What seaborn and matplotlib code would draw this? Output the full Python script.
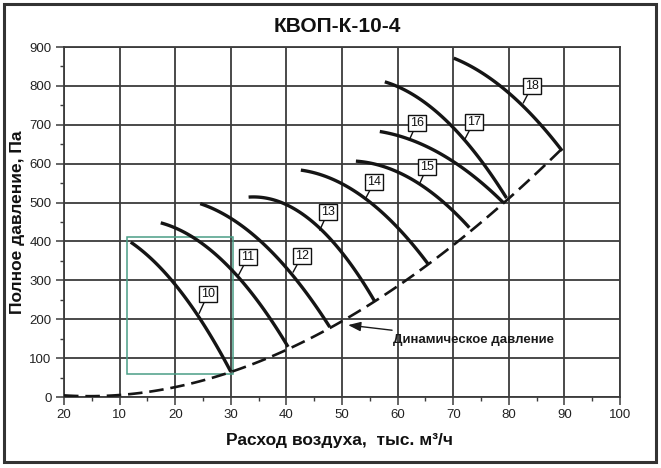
import matplotlib
matplotlib.use("Agg")
import matplotlib.pyplot as plt
from matplotlib.patches import Rectangle
import numpy as np
import pandas as pd
import seaborn as sns

# ---- data ----
curve_names = ["10", "11", "12", "13", "14", "15", "16", "17", "18"]
q10 = [12.0, 15.7, 19.4, 24.7, 28.6, 30.0]
p10 = [401, 350, 300, 200, 100, 65]
q11 = [17.4, 23.6, 30.2, 31.9, 37.5, 40.3]
p11 = [451, 400, 328, 300, 200, 123]
q12 = [24.5, 29.9, 34.7, 40.0, 42.6, 46.6, 47.8]
p12 = [502, 455, 400, 337, 300, 200, 177]
q13 = [33.2, 36.5, 46.1, 50.1, 53.5, 55.9]
p13 = [522, 500, 429, 382, 300, 241]
q14 = [42.6, 47.8, 55.3, 62.2, 65.5]
p14 = [586, 558, 500, 404, 339]
q15 = [52.5, 60.0, 64.0, 70.0, 72.9]
p15 = [609, 571, 549, 489, 428]
q16 = [56.8, 62.0, 70.0, 74.8, 79.0]
p16 = [684, 661, 605, 558, 498]
q17 = [57.7, 59.2, 70.0, 72.1, 75.4, 79.6]
p17 = [813, 800, 691, 663, 600, 511]
q18 = [70.1, 80.0, 82.5, 85.3, 89.6]
p18 = [871, 781, 755, 700, 635]

dyn_q = [0, 10, 20, 30, 40.3, 47.8, 55.9, 65.5, 72.9, 79.6, 89.6]
dyn_p = [2, 8, 26, 65, 123, 177, 241, 339, 428, 511, 635]

x_ticks = [0, 10, 20, 30, 40, 50, 60, 70, 80, 90, 100]
x_tick_labels = ["20", "10", "20", "30", "40", "50", "60", "70", "80", "90", "100"]
y_ticks = [0, 100, 200, 300, 400, 500, 600, 700, 800, 900]

title = "КВОП-К-10-4"
x_label = "Расход воздуха,  тыс. м³/ч"
y_label = "Полное давление, Па"
note = "Динамическое давление"

# label box positions (centre) and leader end points
label_box = {"10": (25.9, 265), "11": (33.1, 360), "12": (42.8, 363), "13": (47.5, 476),
             "14": (55.8, 553), "15": (65.3, 591), "16": (63.5, 705), "17": (73.7, 707),
             "18": (84.2, 800)}
label_pt = {"10": (24.3, 215), "11": (31.3, 311), "12": (41.2, 321), "13": (46.0, 429),
            "14": (54.3, 512), "15": (64.0, 550), "16": (62.1, 661), "17": (72.1, 663),
            "18": (82.6, 756)}

qs = [q10, q11, q12, q13, q14, q15, q16, q17, q18]
ps = [p10, p11, p12, p13, p14, p15, p16, p17, p18]

# ---- style ----
sns.set_theme(style="white")
plt.rcParams["font.family"] = ["Liberation Sans", "DejaVu Sans"]

fig = plt.figure(figsize=(6.61, 4.68), dpi=100)
ax = fig.add_axes([64 / 661, 1 - 397 / 468, 556 / 661, 350 / 468])

grid_c = "#3c3c3c"

# teal selection rectangle
ax.add_patch(Rectangle((11.4, 59), 30.4 - 11.4, 411 - 59, fill=False,
                       edgecolor="#4a9e86", lw=1.1, zorder=2))

# fan curves (smooth 2nd-order fit through the read points)
for q, p in zip(qs, ps):
    sns.regplot(x=np.array(q), y=np.array(p), order=2, ci=None, scatter=False,
                truncate=True, color="#151515", ax=ax,
                line_kws=dict(lw=2.4, zorder=4, solid_capstyle="butt"))
# dynamic pressure
sns.regplot(x=np.array(dyn_q), y=np.array(dyn_p), order=3, ci=None, scatter=False,
            truncate=True, color="#151515", ax=ax,
            line_kws=dict(lw=1.9, zorder=4, linestyle=(0, (5.5, 2.6))))
ax.set_xlabel("")
ax.set_ylabel("")

ax.set_xlim(0, 100)
ax.set_ylim(0, 900)
ax.set_xticks(x_ticks)
ax.set_xticklabels(x_tick_labels)
ax.set_yticks(y_ticks)
ax.set_xticks(np.arange(5, 100, 10), minor=True)
ax.set_yticks(np.arange(50, 900, 100), minor=True)
ax.grid(True, which="major", color=grid_c, lw=1.3)
ax.grid(False, which="minor")
ax.set_axisbelow(True)
for s in ax.spines.values():
    s.set_color(grid_c)
    s.set_linewidth(1.3)
ax.tick_params(axis="both", which="major", direction="out", length=6, width=1.1,
               color=grid_c, labelsize=9.5, labelcolor="#222222", pad=3, left=True, bottom=True)
ax.tick_params(axis="both", which="minor", direction="out", length=3, width=1.0,
               color=grid_c, left=True, bottom=True)

# curve number labels
for n in curve_names:
    ax.annotate(n, xy=label_pt[n], xytext=label_box[n], ha="center", va="center",
                fontsize=9, color="#111111", zorder=6,
                bbox=dict(boxstyle="square,pad=0.18", fc="white", ec="#111111", lw=1.0),
                arrowprops=dict(arrowstyle="-", color="#111111", lw=1.0,
                                shrinkA=0, shrinkB=0))

# dynamic pressure note
ax.annotate(note, xy=(51.1, 185), xytext=(59.2, 147), ha="left", va="center",
            fontsize=9.5, fontweight="bold", color="#1a1a1a", zorder=6,
            arrowprops=dict(arrowstyle="-|>,head_length=0.8,head_width=0.3",
                            color="#1a1a1a", lw=1.0, shrinkA=2, shrinkB=0))

# titles
fig.text(337 / 661, 1 - 27 / 468, title, ha="center", va="center",
         fontsize=15, fontweight="bold", color="#111111")
fig.text(340 / 661, 1 - 440 / 468, x_label, ha="center", va="center",
         fontsize=12.5, fontweight="bold", color="#111111")
fig.text(18 / 661, 1 - 222 / 468, y_label, ha="center", va="center", rotation=90,
         fontsize=12.5, fontweight="bold", color="#111111")

# figure border
fig.patches.append(Rectangle((4 / 661, 6 / 468), 652 / 661, 458 / 468, fill=False,
                             edgecolor="#333333", lw=2.2, transform=fig.transFigure,
                             figure=fig))

fig.savefig("out.png", dpi=100)
